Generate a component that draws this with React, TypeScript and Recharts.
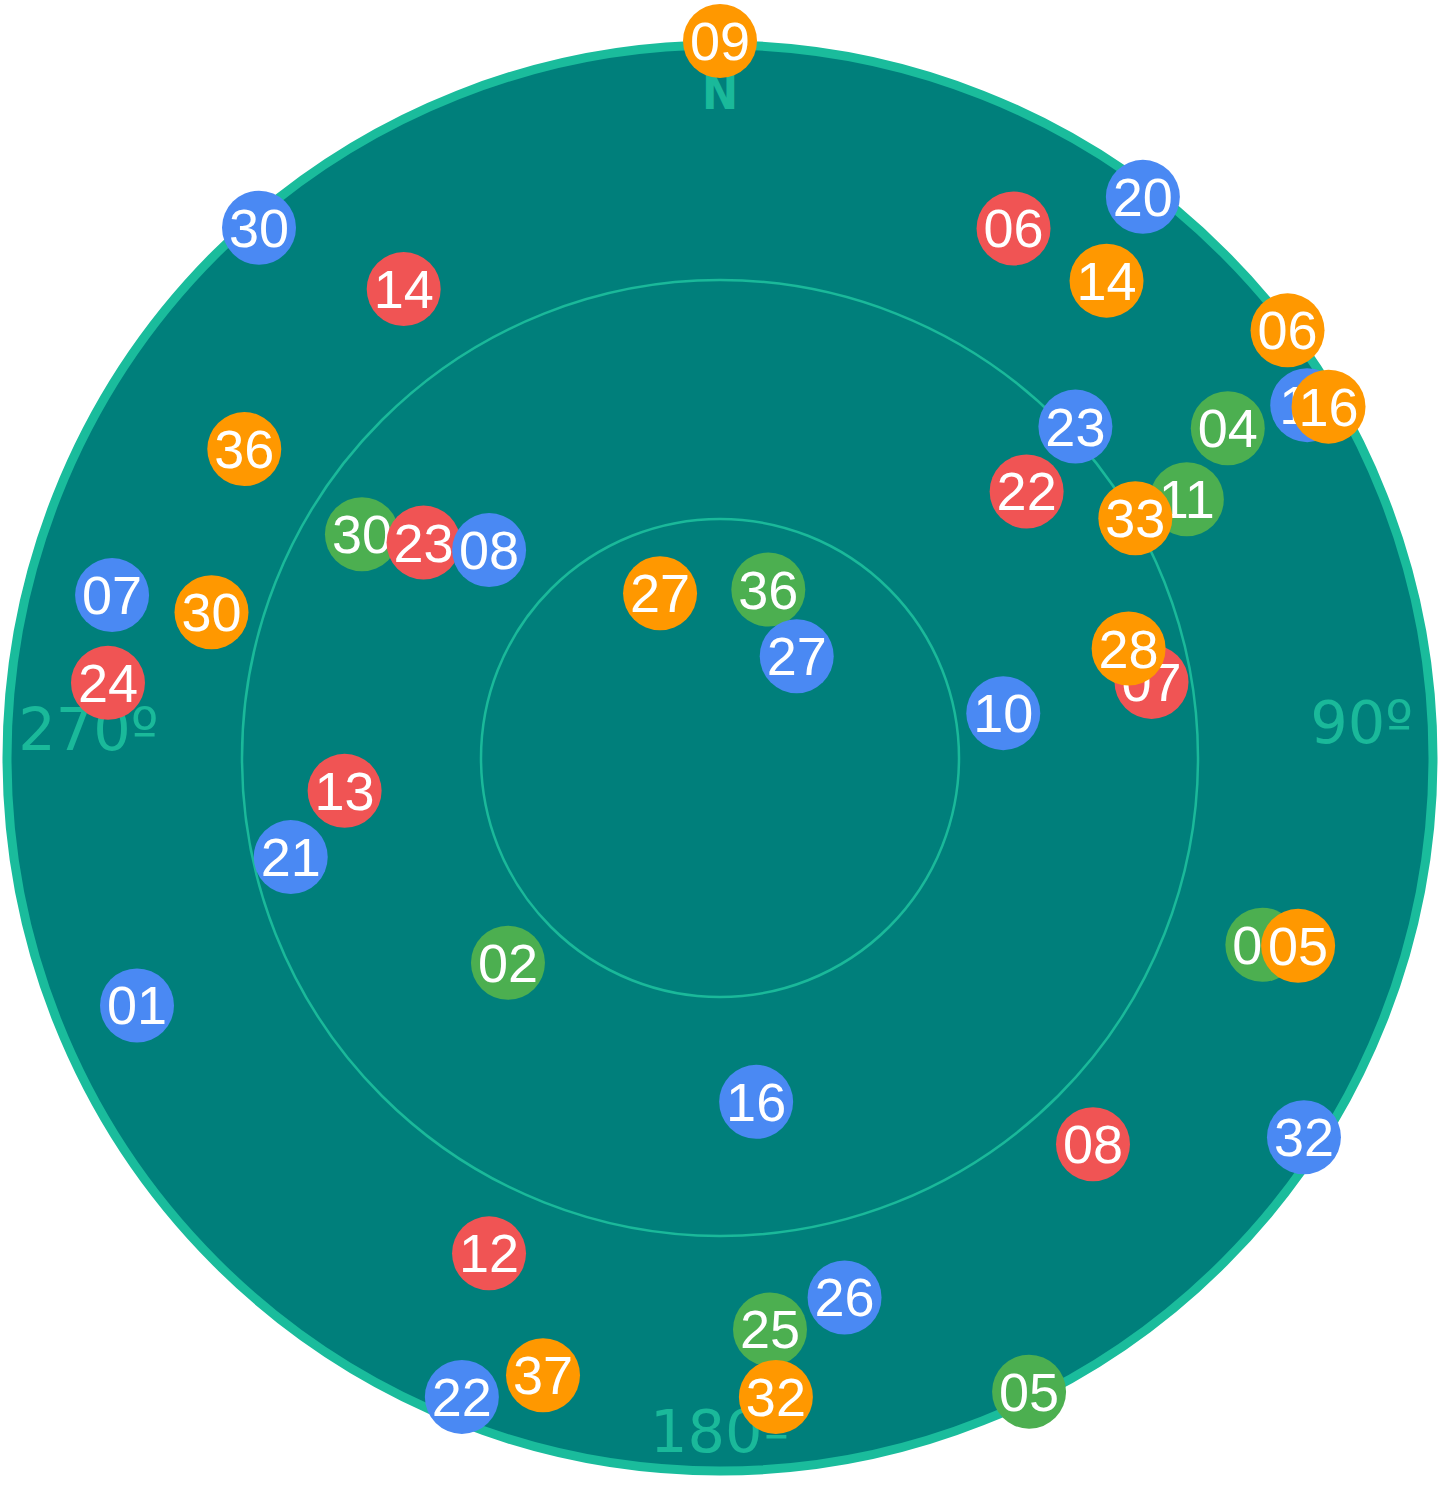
import { ScatterChart, Scatter, XAxis, YAxis, ReferenceDot, ReferenceLine } from 'recharts';

// satellite id, azimuth (deg), elevation (deg)
const greenIds = ['30', '36', '04', '11', '03', '02', '25', '05'];
const greenAz = [302, 16, 57, 61, 109, 226, 175, 154];
const greenEl = [37, 68, 14, 23, 18, 53, 18, 1.5];

const redIds = ['14', '06', '22', '23', '24', '13', '07', '08', '12'];
const redAz = [326, 29, 49, 306, 277, 265, 80, 136, 205];
const redEl = [19, 14, 39, 44, 12.6, 42.7, 35, 22.6, 21.4];

const blueIds = ['30', '07', '01', '21', '08', '27', '10', '23', '20', '11', '32', '16', '26', '22'];
const blueAz = [319, 285, 247, 257, 312, 37, 81, 47, 37, 59, 123, 174, 167, 202];
const blueEl = [1.8, 11, 10.5, 34.7, 51, 74, 54, 29, 1.8, 4, 2.6, 46.6, 20.5, 3.5];

const orangeIds = ['09', '14', '06', '16', '33', '28', '36', '30', '27', '05', '37', '32'];
const orangeAz = [0, 39, 53, 60, 60, 75, 303, 286, 340, 108, 196, 175];
const orangeEl = [0, 12.9, 0.8, 1.8, 29.8, 36.9, 18.8, 23.6, 68, 13.7, 9.4, 9.5];

const ringElevations = [60, 30];

const toPoints = (ids: string[], az: number[], el: number[]) =>
  ids.map((id, i) => {
    const r = 90 - el[i];
    const a = (az[i] * Math.PI) / 180;
    return { id, x: r * Math.sin(a), y: r * Math.cos(a) };
  });

const ringColor = '#1abc9c';
const gridColor = '#1ab99a';

const satShape = (color: string) => (props: any) => (
  <g>
    <circle cx={props.cx} cy={props.cy} r={37} fill={color} />
    <text
      x={props.cx}
      y={props.cy}
      dy={19}
      textAnchor="middle"
      fill="#fff"
      fontSize={54}
      fontFamily="Liberation Sans, Arial, sans-serif"
    >
      {props.payload.id}
    </text>
  </g>
);

const textShape = (label: string, anchor: 'start' | 'middle' | 'end', bold = false) => (props: any) => (
  <text
    x={props.cx}
    y={props.cy}
    textAnchor={anchor}
    fill={gridColor}
    fontSize={bold ? 48 : 59}
    fontWeight={bold ? 'bold' : 'normal'}
    fontFamily={bold ? 'DejaVu Sans Condensed, DejaVu Sans' : 'DejaVu Sans'}
  >
    {label}
  </text>
);

export default function App() {
  return (
    <div style={{ position: 'absolute', left: 0, top: 0, background: '#fff' }}>
      <ScatterChart width={1440} height={1485} margin={{ top: 41, right: 3, bottom: 10, left: 3 }}>
        <XAxis type="number" dataKey="x" domain={[-90, 90]} hide />
        <YAxis type="number" dataKey="y" domain={[-90, 90]} hide />
        <ReferenceDot x={0} y={0} r={713} fill="#007f7b" stroke={ringColor} strokeWidth={9} />
        {ringElevations.map((e) => (
          <ReferenceDot key={e} x={0} y={0} r={(90 - e) * (717 / 90)} fill="none" stroke={gridColor} strokeWidth={2.5} />
        ))}
        <ReferenceLine x={0} stroke={gridColor} strokeWidth={2.5} />
        <ReferenceLine y={0} stroke={gridColor} strokeWidth={2.5} />
        <ReferenceDot x={0} y={81.5} r={0} shape={textShape('N', 'middle', true)} />
        <ReferenceDot x={87} y={1.9} r={0} shape={textShape('90º', 'end')} />
        <ReferenceDot x={-88.1} y={1} r={0} shape={textShape('270º', 'start')} />
        <ReferenceDot x={-8.8} y={-87.1} r={0} shape={textShape('180º', 'start')} />
        <Scatter data={toPoints(greenIds, greenAz, greenEl)} shape={satShape('#4caf50')} isAnimationActive={false} />
        <Scatter data={toPoints(redIds, redAz, redEl)} shape={satShape('#f05454')} isAnimationActive={false} />
        <Scatter data={toPoints(blueIds, blueAz, blueEl)} shape={satShape('#4a89f3')} isAnimationActive={false} />
        <Scatter data={toPoints(orangeIds, orangeAz, orangeEl)} shape={satShape('#ff9800')} isAnimationActive={false} />
      </ScatterChart>
    </div>
  );
}
